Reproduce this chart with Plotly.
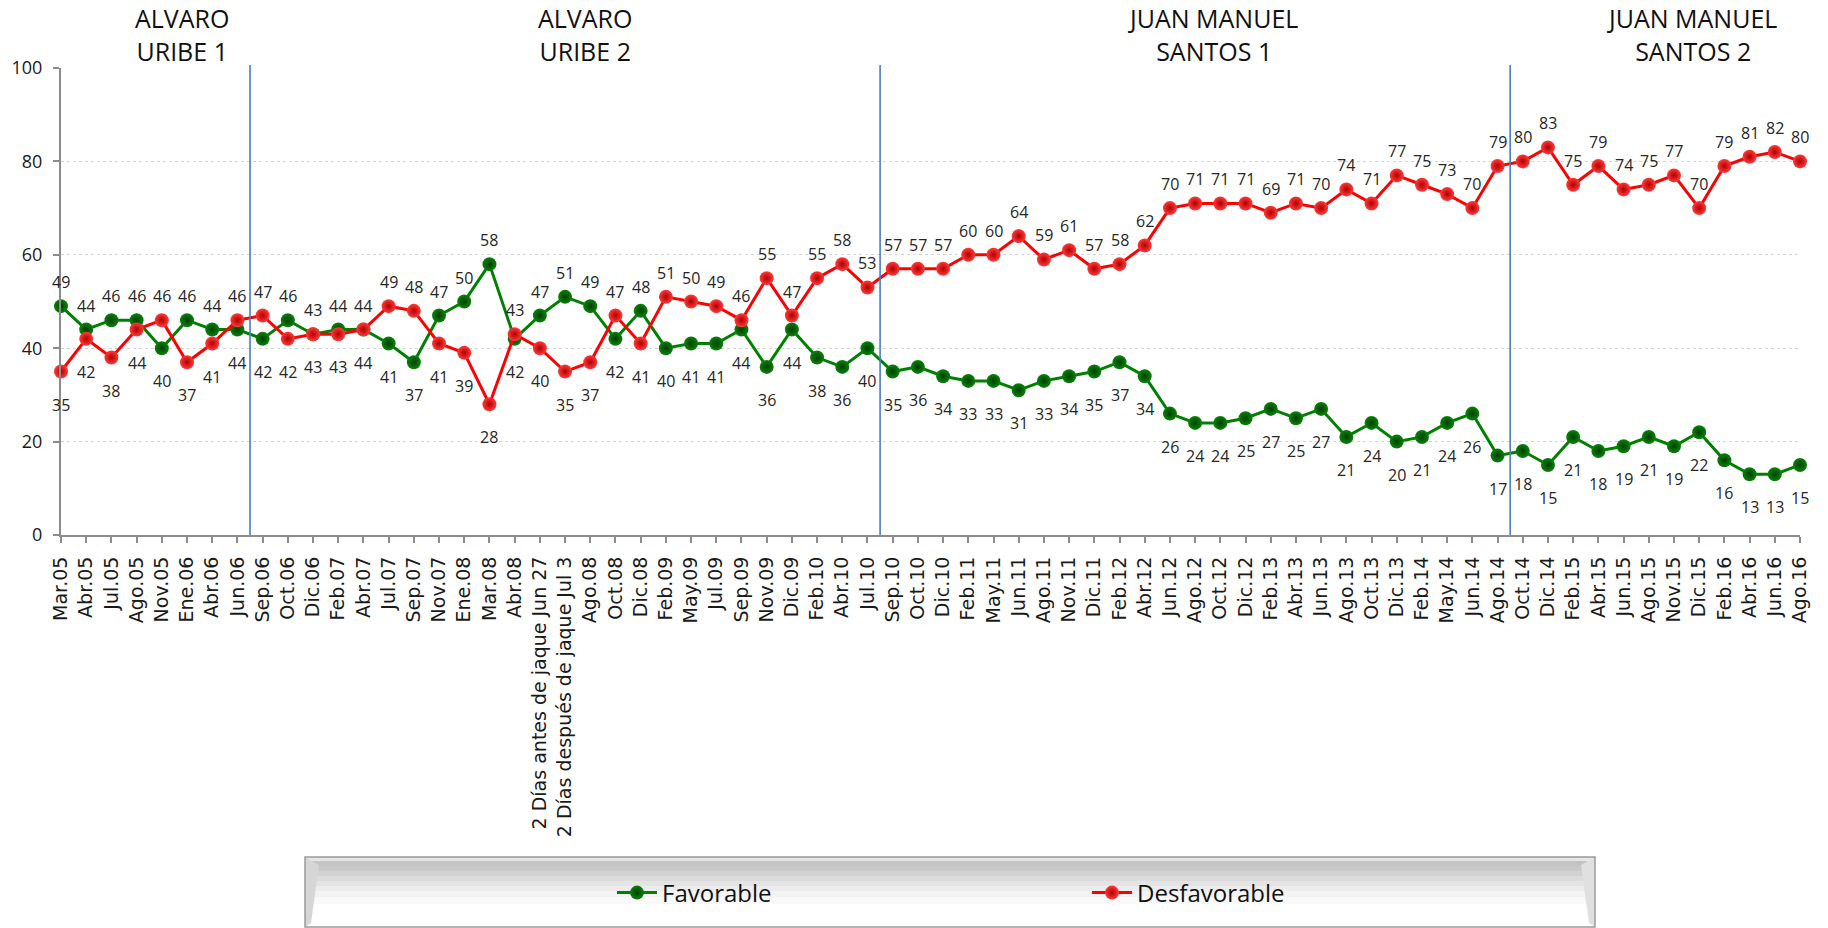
import plotly.graph_objects as go

categories = [
    "Mar.05", "Abr.05", "Jul.05", "Ago.05", "Nov.05", "Ene.06", "Abr.06", "Jun.06",
    "Sep.06", "Oct.06", "Dic.06", "Feb.07", "Abr.07", "Jul.07", "Sep.07", "Nov.07",
    "Ene.08", "Mar.08", "Abr.08", "2 Días antes de jaque Jun 27",
    "2 Días después de jaque Jul 3", "Ago.08", "Oct.08", "Dic.08", "Feb.09", "May.09",
    "Jul.09", "Sep.09", "Nov.09", "Dic.09", "Feb.10", "Abr.10", "Jul.10", "Sep.10",
    "Oct.10", "Dic.10", "Feb.11", "May.11", "Jun.11", "Ago.11", "Nov.11", "Dic.11",
    "Feb.12", "Abr.12", "Jun.12", "Ago.12", "Oct.12", "Dic.12", "Feb.13", "Abr.13",
    "Jun.13", "Ago.13", "Oct.13", "Dic.13", "Feb.14", "May.14", "Jun.14", "Ago.14",
    "Oct.14", "Dic.14", "Feb.15", "Abr.15", "Jun.15", "Ago.15", "Nov.15", "Dic.15",
    "Feb.16", "Abr.16", "Jun.16", "Ago.16",
]

favorable = [
    49, 44, 46, 46, 40, 46, 44, 44, 42, 46, 43, 44, 44, 41, 37, 47, 50, 58, 42, 47,
    51, 49, 42, 48, 40, 41, 41, 44, 36, 44, 38, 36, 40, 35, 36, 34, 33, 33, 31, 33,
    34, 35, 37, 34, 26, 24, 24, 25, 27, 25, 27, 21, 24, 20, 21, 24, 26, 17, 18, 15,
    21, 18, 19, 21, 19, 22, 16, 13, 13, 15,
]

desfavorable = [
    35, 42, 38, 44, 46, 37, 41, 46, 47, 42, 43, 43, 44, 49, 48, 41, 39, 28, 43, 40,
    35, 37, 47, 41, 51, 50, 49, 46, 55, 47, 55, 58, 53, 57, 57, 57, 60, 60, 64, 59,
    61, 57, 58, 62, 70, 71, 71, 71, 69, 71, 70, 74, 71, 77, 75, 73, 70, 79, 80, 83,
    75, 79, 74, 75, 77, 70, 79, 81, 82, 80,
]

period_titles = ["ALVARO<br>URIBE 1", "ALVARO<br>URIBE 2",
                 "JUAN MANUEL<br>SANTOS 1", "JUAN MANUEL<br>SANTOS 2"]
period_last_survey = ["Jun.06", "Jul.10", "Ago.14"]
y_ticks = [0, 20, 40, 60, 80, 100]

# ---------------- layout geometry (pixels) ----------------
W, H = 1828, 928
ML, MR, MT, MB = 61, 28, 68, 393
PW, PH = W - ML - MR, H - MT - MB


def py(p):  # pixel row -> paper y
    return (H - MB - p) / PH


def px(p):  # pixel column -> paper x
    return (p - ML) / PW


FONT = "Open Sans"
GREEN_LINE, RED_LINE = "#008000", "#ff0000"

fig = go.Figure()
idx = list(range(len(categories)))

fig.add_trace(go.Scatter(
    x=idx, y=favorable, name="Favorable", mode="lines+markers",
    line=dict(color=GREEN_LINE, width=3),
    marker=dict(size=14, color="#0c820c", gradient=dict(type="radial", color="#004000"),
                line=dict(width=0)),
    cliponaxis=False, hoverinfo="skip",
))
fig.add_trace(go.Scatter(
    x=idx, y=desfavorable, name="Desfavorable", mode="lines+markers",
    line=dict(color=RED_LINE, width=3),
    marker=dict(size=14, color="#ff3a3a", gradient=dict(type="radial", color="#b00000"),
                line=dict(width=0)),
    cliponaxis=False, hoverinfo="skip",
))

# data labels: higher value above, lower value below
annotations = []
for i, (f, d) in enumerate(zip(favorable, desfavorable)):
    for val, above in ((f, f >= d), (d, d > f)):
        annotations.append(dict(
            x=i, y=val, xref="x", yref="y", text=str(val), showarrow=False,
            yshift=24 if above else -33, xanchor="center", yanchor="middle",
            font=dict(family=FONT, size=16, color="#262626"),
        ))

# period titles
title_x = [px(182), px(585), px(1213), px(1692)]
for t, xp in zip(period_titles, title_x):
    annotations.append(dict(
        x=xp, y=py(34.5), xref="paper", yref="paper", text=t, showarrow=False,
        xanchor="center", yanchor="middle", align="center",
        font=dict(family=FONT, size=25, color="#111111"),
    ))

shapes = []
# period separators
for c in period_last_survey:
    xb = categories.index(c) + 0.5
    shapes.append(dict(type="line", xref="x", yref="paper", x0=xb, x1=xb,
                       y0=0, y1=py(65), line=dict(color="#4a7ebb", width=1.6)))

# legend box with vertical gray gradient
box_l, box_r, box_t, box_b = 305, 1595, 857, 927
grad = [(857, 861, "#e6e6e6"), (861, 866, "#c4c4c4"), (866, 871, "#c9c9c9"),
        (871, 876, "#d2d2d2"), (876, 881, "#dbdbdb"), (881, 886, "#e4e4e4"),
        (886, 891, "#ececec"), (891, 897, "#f3f3f3"), (897, 904, "#f9f9f9"),
        (904, 927, "#ffffff")]
for y0, y1, col in grad:
    shapes.append(dict(type="rect", xref="paper", yref="paper", layer="below",
                       x0=px(box_l), x1=px(box_r), y0=py(y1), y1=py(y0),
                       fillcolor=col, line=dict(width=0)))
# bevel sides
shapes.append(dict(type="path", xref="paper", yref="paper", layer="below",
                   path=f"M {px(box_l)},{py(box_t)} L {px(box_l+14)},{py(box_t+8)} "
                        f"L {px(box_l+6)},{py(box_b-4)} L {px(box_l)},{py(box_b)} Z",
                   fillcolor="#d6d6d6", line=dict(width=0)))
shapes.append(dict(type="path", xref="paper", yref="paper", layer="below",
                   path=f"M {px(box_r)},{py(box_t)} L {px(box_r-14)},{py(box_t+8)} "
                        f"L {px(box_r-6)},{py(box_b-4)} L {px(box_r)},{py(box_b)} Z",
                   fillcolor="#e0e0e0", line=dict(width=0)))
shapes.append(dict(type="rect", xref="paper", yref="paper", layer="below",
                   x0=px(box_l), x1=px(box_r), y0=py(box_b), y1=py(box_t),
                   fillcolor="rgba(0,0,0,0)", line=dict(color="#9a9a9a", width=1.5)))

fig.update_layout(
    width=W, height=H,
    margin=dict(l=ML, r=MR, t=MT, b=MB, autoexpand=False),
    paper_bgcolor="white", plot_bgcolor="white",
    font=dict(family=FONT, color="#1a1a1a"),
    showlegend=True,
    legend=dict(orientation="h", x=px(1087), xanchor="center", y=py(893), yanchor="middle",
                bgcolor="rgba(0,0,0,0)", font=dict(family=FONT, size=24, color="#111111"),
                entrywidth=420, entrywidthmode="pixels", itemwidth=40),
    annotations=annotations,
    shapes=shapes,
    xaxis=dict(
        type="linear", range=[0, len(categories) - 1],
        tickmode="array", tickvals=idx, ticktext=categories, tickangle=-90,
        ticks="outside", ticklen=6, tickcolor="#8c8c8c", tickwidth=1.5,
        ticklabelstandoff=6,
        showline=True, linecolor="#8c8c8c", linewidth=2,
        showgrid=False, zeroline=False,
        tickfont=dict(family="DejaVu Sans", size=19, color="#1a1a1a"),
    ),
    yaxis=dict(
        range=[0, 100], tickmode="array", tickvals=y_ticks,
        ticks="outside", ticklen=6, tickcolor="#8c8c8c", tickwidth=1.5,
        ticklabelstandoff=7,
        showline=True, linecolor="#8c8c8c", linewidth=2,
        showgrid=True, gridcolor="#d4d4d4", griddash="dot", gridwidth=1,
        zeroline=False,
        tickfont=dict(family=FONT, size=18, color="#1a1a1a"),
    ),
)

fig.write_html(
    "out.html",
    config={"displayModeBar": False},
    post_script="document.body.style.margin='0px';document.body.style.overflow='hidden';",
)
